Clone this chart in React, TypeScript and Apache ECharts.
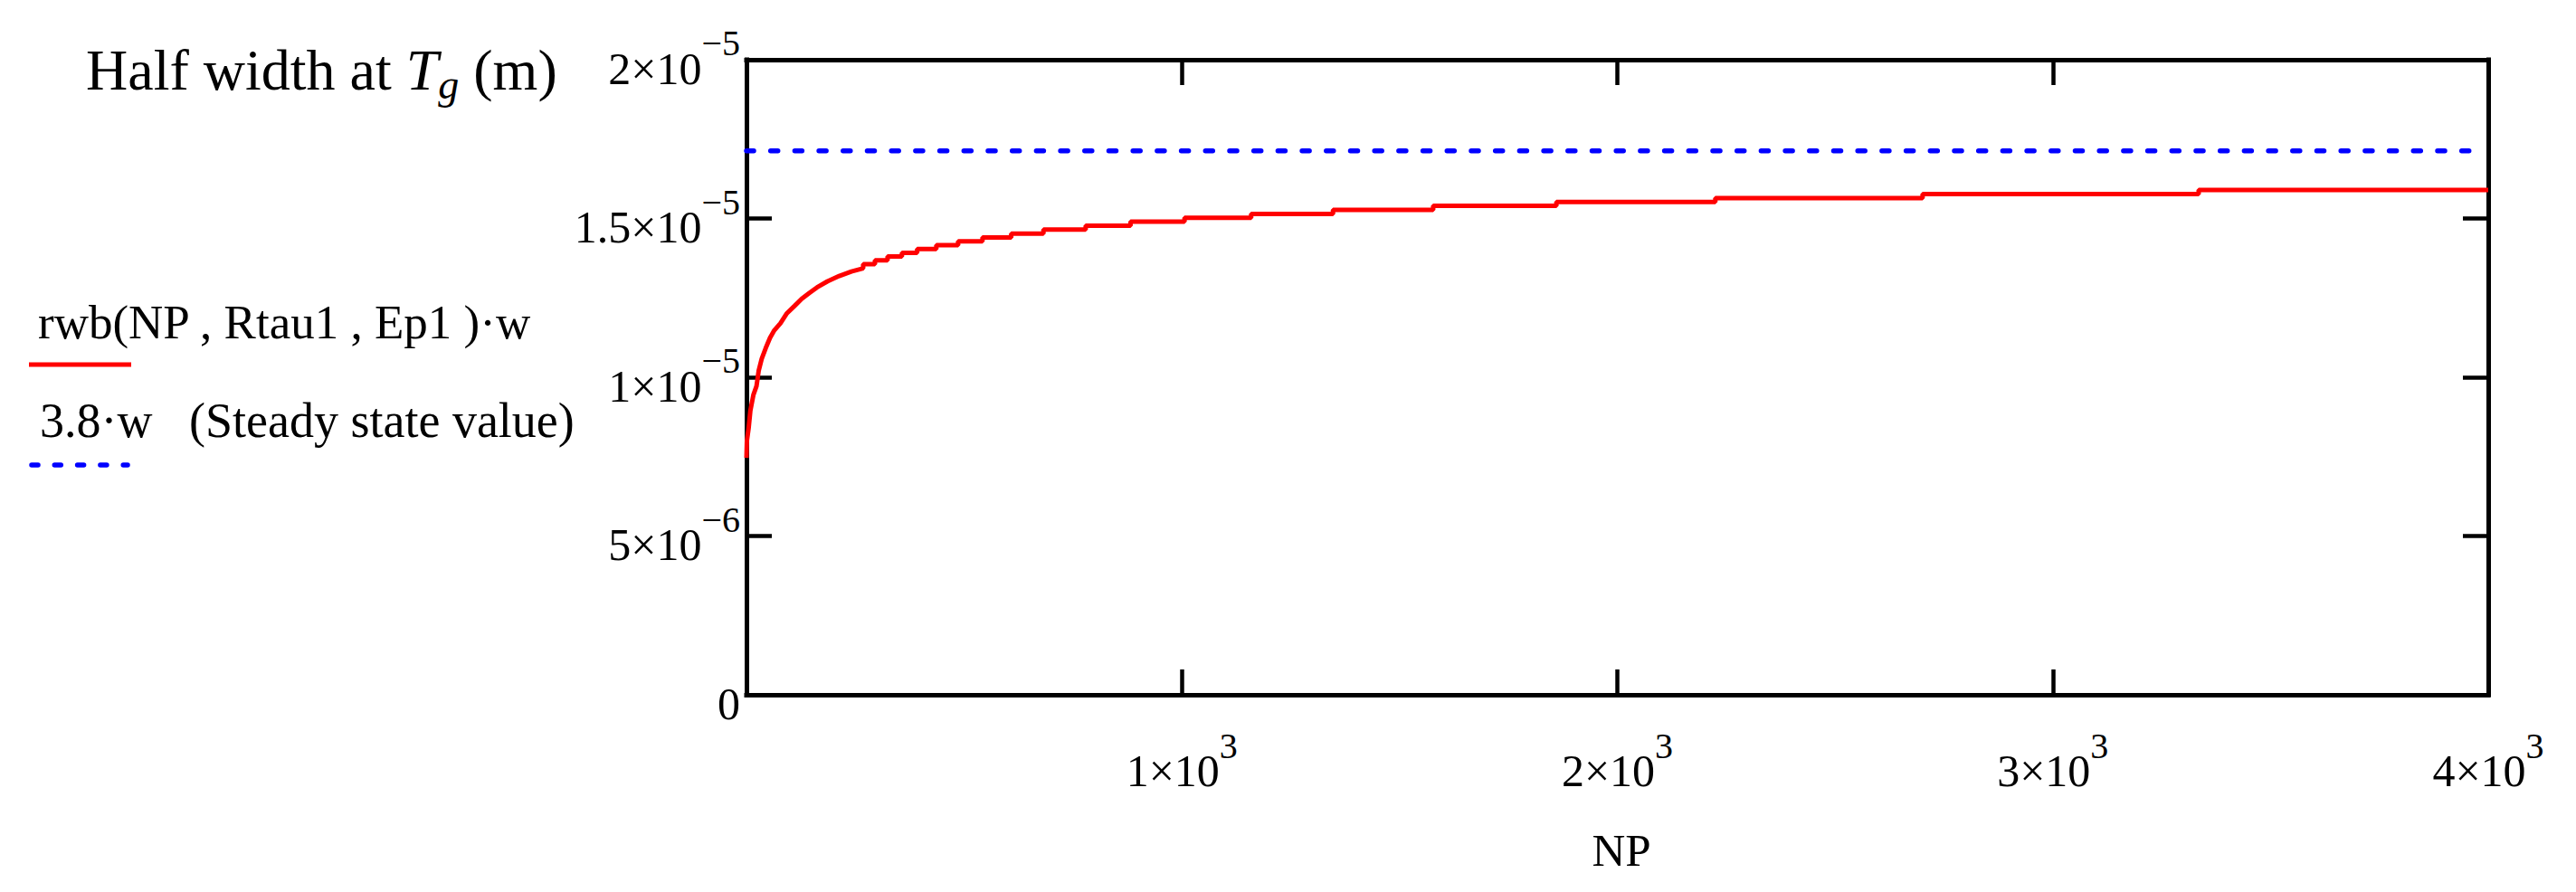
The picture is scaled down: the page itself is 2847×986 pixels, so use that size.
import { useEffect, useRef } from "react";
import * as echarts from "echarts";

// red curve: steep start read as points, then the flat staircase
const earlyNP = [0, 1, 5, 9, 16, 23, 28, 35, 44, 54, 64, 78, 92, 110, 127, 144, 162, 186, 213, 241, 268];
const earlyWidth = [
  7.46e-6, 8.0e-6, 8.4e-6, 8.95e-6, 9.45e-6, 9.72e-6, 1.02e-5, 1.058e-5, 1.091e-5, 1.124e-5, 1.148e-5,
  1.17e-5, 1.2e-5, 1.224e-5, 1.247e-5, 1.265e-5, 1.283e-5, 1.302e-5, 1.319e-5, 1.333e-5, 1.343e-5,
];
const stepNP = [268, 295, 324, 357, 392, 436, 486, 542, 608, 682, 779, 882, 1006, 1159, 1347, 1577, 1860, 2225, 2701, 3335];
const stepWidth = [
  1.356e-5, 1.368e-5, 1.38e-5, 1.392e-5, 1.404e-5, 1.416e-5, 1.428e-5, 1.44e-5, 1.452e-5, 1.465e-5,
  1.477e-5, 1.49e-5, 1.502e-5, 1.514e-5, 1.527e-5, 1.54e-5, 1.552e-5, 1.564e-5, 1.577e-5, 1.59e-5,
];
const lastNP = 4000;

// blue dotted steady state line
const steadyNP = [0, 3980];
const steadyWidth = [1.713e-5, 1.713e-5];

// tick labels
const xTickMain = ["", "1×10", "2×10", "3×10", "4×10"];
const xTickExp = ["", "3", "3", "3", "3"];
const yTickMain = ["0", "5×10", "1×10", "1.5×10", "2×10"];
const yTickExp = ["", "−6", "−5", "−5", "−5"];

const FONT = "Liberation Serif";

export default function App() {
  const chartRef = useRef<HTMLDivElement>(null);

  useEffect(() => {
    if (!chartRef.current) return;
    document.body.style.margin = "0";

    const chart = echarts.init(chartRef.current, null, { renderer: "svg" });

    const curve: number[][] = earlyNP.map((x, i) => [x, earlyWidth[i]]);
    stepNP.forEach((x, i) => {
      if (i > 0) curve.push([x, stepWidth[i - 1]]);
      curve.push([x, stepWidth[i]]);
    });
    curve.push([lastNP, stepWidth[stepWidth.length - 1]]);

    const steady = steadyNP.map((x, i) => [x, steadyWidth[i]]);

    const tickRich = {
      m: { fontSize: 50, fontFamily: FONT, color: "#000", padding: [19, 0, 0, 0], verticalAlign: "middle" },
      e: { fontSize: 40, fontFamily: FONT, color: "#000", padding: [0, 0, 37, 0], verticalAlign: "middle" },
    };

    // all four sides of the frame stay on the grid edges
    const frameLine = { show: true, onZero: false, lineStyle: { color: "#000", width: 5, cap: "square" } };
    const tick = { show: true, inside: true, length: 28, lineStyle: { color: "#000", width: 4.5 } };

    chart.setOption({
      animation: false,
      backgroundColor: "#ffffff",
      grid: {
        left: 825,
        right: 97,
        top: 66,
        bottom: 218,
        containLabel: false,
        outerBoundsMode: "none",
      },
      xAxis: [
        {
          type: "value",
          position: "bottom",
          min: 0,
          max: 4000,
          interval: 1000,
          axisLine: frameLine,
          axisTick: tick,
          splitLine: { show: false },
          axisLabel: {
            margin: 36,
            rich: tickRich,
            formatter: (v: number) => {
              const i = Math.round(v / 1000);
              return xTickMain[i] ? `{m|${xTickMain[i]}}{e|${xTickExp[i]}}` : "";
            },
          },
        },
        {
          type: "value",
          position: "top",
          min: 0,
          max: 4000,
          interval: 1000,
          axisLine: frameLine,
          axisTick: tick,
          splitLine: { show: false },
          axisLabel: { show: false },
        },
      ],
      yAxis: [
        {
          type: "value",
          position: "left",
          min: 0,
          max: 2e-5,
          interval: 5e-6,
          axisLine: frameLine,
          axisTick: tick,
          splitLine: { show: false },
          axisLabel: {
            margin: 7,
            rich: tickRich,
            formatter: (v: number) => {
              const i = Math.round(v / 5e-6);
              return yTickExp[i] ? `{m|${yTickMain[i]}}{e|${yTickExp[i]}}` : `{m|${yTickMain[i]}}`;
            },
          },
        },
        {
          type: "value",
          position: "right",
          min: 0,
          max: 2e-5,
          interval: 5e-6,
          axisLine: frameLine,
          axisTick: tick,
          splitLine: { show: false },
          axisLabel: { show: false },
        },
      ],
      series: [
        {
          name: "rwb(NP , Rtau1 , Ep1)·w",
          type: "line",
          data: curve,
          showSymbol: false,
          symbol: "none",
          lineStyle: { color: "#ff0000", width: 5 },
        },
        {
          name: "3.8·w (Steady state value)",
          type: "line",
          data: steady,
          showSymbol: false,
          symbol: "none",
          lineStyle: { color: "#0000ff", width: 5.5, type: [8, 18.7], cap: "round" },
        },
      ],
      graphic: [
        {
          type: "text",
          x: 95,
          y: 77,
          style: {
            text: "{a|Half width at }{t|T}{s|g}{a| (m)}",
            verticalAlign: "middle",
            align: "left",
            rich: {
              a: { fontSize: 64, fontFamily: FONT, fill: "#000", verticalAlign: "middle" },
              t: { fontSize: 64, fontFamily: FONT, fontStyle: "italic", fill: "#000", verticalAlign: "middle" },
              s: {
                fontSize: 46,
                fontFamily: FONT,
                fontStyle: "italic",
                fill: "#000",
                padding: [33, 0, 0, 0],
                verticalAlign: "middle",
              },
            },
          },
        },
        {
          type: "text",
          x: 42,
          y: 356,
          style: {
            text: "rwb(NP , Rtau1 , Ep1 )·w",
            font: `53px "${FONT}"`,
            fill: "#000",
            verticalAlign: "middle",
            align: "left",
          },
        },
        {
          type: "line",
          shape: { x1: 32, y1: 403, x2: 145, y2: 403 },
          style: { stroke: "#ff0000", lineWidth: 5 },
        },
        {
          type: "text",
          x: 44,
          y: 465,
          style: {
            text: "3.8·w   (Steady state value)",
            font: `54px "${FONT}"`,
            fill: "#000",
            verticalAlign: "middle",
            align: "left",
          },
        },
        {
          type: "line",
          shape: { x1: 35, y1: 514, x2: 141, y2: 514 },
          style: { stroke: "#0000ff", lineWidth: 5.5, lineDash: [7, 18.3], lineCap: "round" },
        },
        {
          type: "text",
          x: 1792,
          y: 940,
          style: {
            text: "NP",
            font: `51px "${FONT}"`,
            fill: "#000",
            verticalAlign: "middle",
            align: "center",
          },
        },
      ],
    });

    return () => {
      chart.dispose();
    };
  }, []);

  return <div ref={chartRef} style={{ width: "2847px", height: "986px" }} />;
}
